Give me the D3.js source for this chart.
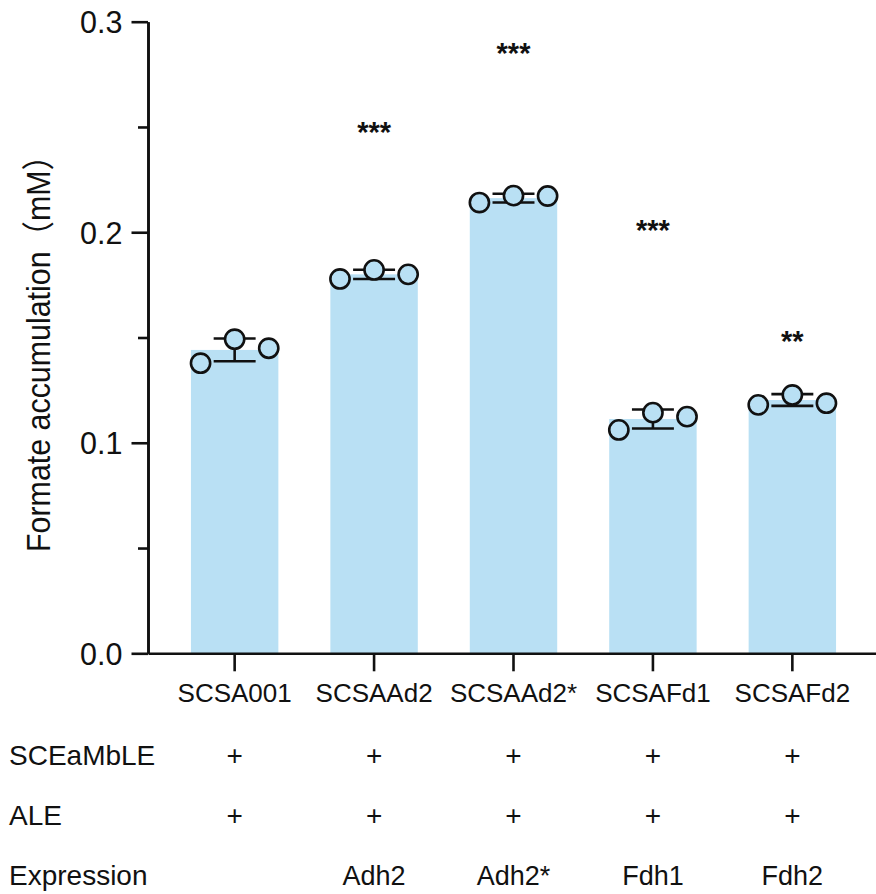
<!DOCTYPE html>
<html>
<head>
<meta charset="utf-8">
<script src="https://cdn.jsdelivr.net/npm/d3@7"></script>
<style>
  html, body { margin: 0; padding: 0; background: #fff; }
  svg { display: block; }
  text { font-family: "Liberation Sans", Arial, "Noto Sans CJK SC", sans-serif; fill: #111; }
</style>
</head>
<body>
<svg id="chart" width="876" height="894"></svg>
<script>
// Strains and measured formate accumulation (mM)
const categories = ["SCSA001", "SCSAAd2", "SCSAAd2*", "SCSAFd1", "SCSAFd2"];
const means = [0.1441, 0.1800, 0.2162, 0.1113, 0.1203];
const sd = [0.0054, 0.0022, 0.0021, 0.0045, 0.0028];
// Biological replicates
const rep1 = [0.1378, 0.1778, 0.2141, 0.1061, 0.1180];
const rep2 = [0.1492, 0.1821, 0.2174, 0.1143, 0.1227];
const rep3 = [0.1449, 0.1800, 0.2172, 0.1124, 0.1188];
// Significance marks and the value level they sit at
const sig = ["", "***", "***", "***", "**"];
const sigAt = [null, 0.2505, 0.2882, 0.2039, 0.1512];
// Axis ticks
const majorTicks = [0, 0.1, 0.2, 0.3];
const minorTicks = [0.05, 0.15, 0.25];
// Genotype table below the axis
const rowLabels = ["SCEaMbLE", "ALE", "Expression"];
const sceamble = ["+", "+", "+", "+", "+"];
const ale = ["+", "+", "+", "+", "+"];
const expression = ["", "Adh2", "Adh2*", "Fdh1", "Fdh2"];

const barColor = "#b9e0f4";
const ink = "#111";
const svg = d3.select("#chart");

const x = d3.scaleBand()
  .domain(categories)
  .range([148, 879])
  .paddingInner(0.373)
  .paddingOuter(0.308);

const y = d3.scaleLinear()
  .domain([0, 0.3])
  .range([653.3, 21.7]);

const cx = c => x(c) + x.bandwidth() / 2;

// Bars
svg.append("g").selectAll("rect")
  .data(categories)
  .join("rect")
  .attr("x", d => x(d))
  .attr("width", x.bandwidth())
  .attr("y", (d, i) => y(means[i]))
  .attr("height", (d, i) => y(0) - y(means[i]))
  .attr("fill", barColor);

// Error bars (mean ± SD)
const eb = svg.append("g")
  .attr("stroke", ink)
  .attr("stroke-width", 2.6)
  .attr("fill", "none");
const capHalf = x.bandwidth() * 0.24;
categories.forEach((c, i) => {
  const hi = y(means[i] + sd[i]), lo = y(means[i] - sd[i]);
  eb.append("line").attr("x1", cx(c)).attr("x2", cx(c)).attr("y1", hi).attr("y2", lo);
  eb.append("line").attr("x1", cx(c) - capHalf).attr("x2", cx(c) + capHalf).attr("y1", hi).attr("y2", hi);
  eb.append("line").attr("x1", cx(c) - capHalf).attr("x2", cx(c) + capHalf).attr("y1", lo).attr("y2", lo);
});

// Replicate points
const spread = x.bandwidth() * 0.39;
const pts = [];
categories.forEach((c, i) => {
  pts.push({ c, v: rep1[i], dx: -spread });
  pts.push({ c, v: rep2[i], dx: 0 });
  pts.push({ c, v: rep3[i], dx: spread });
});
svg.append("g").selectAll("circle")
  .data(pts)
  .join("circle")
  .attr("cx", d => cx(d.c) + d.dx)
  .attr("cy", d => y(d.v))
  .attr("r", 9.6)
  .attr("fill", barColor)
  .attr("stroke", ink)
  .attr("stroke-width", 2.6);

// Significance stars
svg.append("g").selectAll("text")
  .data(categories.map((c, i) => ({ c, s: sig[i], v: sigAt[i] })).filter(d => d.s))
  .join("text")
  .attr("x", d => cx(d.c))
  .attr("y", d => y(d.v) + 16)
  .attr("text-anchor", "middle")
  .attr("font-size", 29)
  .attr("font-weight", "bold")
  .text(d => d.s);

// Y axis: minor ticks first, then major ticks with labels
const yMinor = svg.append("g")
  .attr("transform", "translate(148,0)")
  .call(d3.axisLeft(y).tickValues(minorTicks).tickSize(10).tickSizeOuter(0).tickFormat(""));
const yMajor = svg.append("g")
  .attr("transform", "translate(148,0)")
  .call(d3.axisLeft(y).tickValues(majorTicks).tickSize(16.5).tickSizeOuter(0)
    .tickPadding(9).tickFormat(d3.format(".1f")));
yMajor.selectAll("text")
  .attr("font-size", 30.5)
  .attr("dy", "0.36em")
  .style("font-family", "'Liberation Sans', Arial, sans-serif");

// X axis
const xAxis = svg.append("g")
  .attr("transform", `translate(0,${y(0)})`)
  .call(d3.axisBottom(x).tickSize(18).tickSizeOuter(0).tickPadding(12));
xAxis.selectAll("text")
  .attr("font-size", 26)
  .style("font-family", "'Liberation Sans', Arial, sans-serif");

[yMinor, yMajor, xAxis].forEach(g => {
  g.selectAll("path, line").attr("stroke", ink).attr("stroke-width", 2.6);
  g.selectAll("text").attr("fill", ink);
});

// Y axis title
svg.append("text")
  .attr("transform", "translate(50,346) rotate(-90)")
  .attr("text-anchor", "middle")
  .attr("font-size", 33)
  .attr("textLength", 412)
  .attr("lengthAdjust", "spacingAndGlyphs")
  .text("Formate accumulation（mM）");

// Genotype table
const rows = [sceamble, ale, expression];
const rowBase = [765, 825, 885];
const table = svg.append("g");
rowLabels.forEach((lab, r) => {
  table.append("text")
    .attr("x", 9)
    .attr("y", rowBase[r])
    .attr("font-size", 28)
    .text(lab);
  table.selectAll(null)
    .data(rows[r].map((t, i) => ({ t, c: categories[i] })))
    .join("text")
    .attr("x", d => cx(d.c))
    .attr("y", rowBase[r])
    .attr("text-anchor", "middle")
    .attr("font-size", r < 2 ? 28 : 27)
    .text(d => d.t);
});
</script>
</body>
</html>
